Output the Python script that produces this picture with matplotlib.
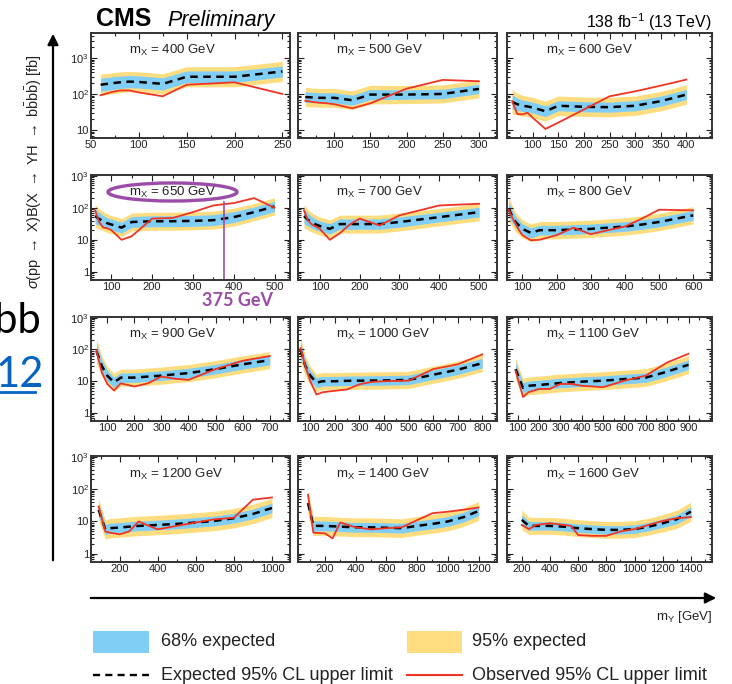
#!/usr/bin/python

"""
CMS X -> YH -> bbbb limits, 12 mass panels
"""
import numpy as np
import matplotlib
matplotlib.use('Agg')
import matplotlib.pyplot as plt
from matplotlib.patches import Ellipse, Rectangle
from matplotlib.lines import Line2D
from matplotlib.ticker import FixedLocator, AutoMinorLocator, LogLocator, NullFormatter, FuncFormatter

plt.rcParams['font.family'] = ['Liberation Sans', 'DejaVu Sans']
plt.rcParams['mathtext.fontset'] = 'custom'
plt.rcParams['mathtext.rm'] = 'Liberation Sans'
plt.rcParams['mathtext.it'] = 'Liberation Sans:italic'
plt.rcParams['mathtext.bf'] = 'Liberation Sans:bold'

MASS_X = [400, 500, 600, 650, 700, 800, 900, 1000, 1100, 1200, 1400, 1600]

MASS_Y = [
    [60, 70, 80, 90, 100, 125, 150, 200, 250],
    [60, 70, 80, 90, 100, 125, 150, 200, 250, 300],
    [60, 70, 80, 90, 100, 125, 150, 200, 250, 300, 350, 400],
    [60, 70, 80, 90, 100, 125, 150, 200, 250, 300, 350, 400, 450, 500],
    [60, 70, 80, 90, 100, 125, 150, 175, 200, 250, 300, 400, 500],
    [60, 70, 80, 90, 100, 125, 150, 200, 250, 300, 350, 400, 450, 500, 600],
    [60, 80, 100, 125, 150, 200, 250, 300, 350, 400, 500, 600, 700],
    [60, 80, 100, 125, 150, 200, 250, 300, 350, 400, 500, 600, 700, 800],
    [90, 125, 150, 200, 250, 300, 350, 400, 500, 600, 700, 800, 900],
    [90, 125, 150, 200, 250, 300, 350, 400, 500, 600, 700, 800, 900, 1000],
    [90, 125, 200, 250, 300, 400, 500, 600, 700, 800, 900, 1000, 1100, 1200],
    [200, 250, 300, 400, 500, 550, 600, 700, 800, 900, 1000, 1100, 1200, 1300, 1400],
]

EXPECTED = [
    [180, 195, 210, 220, 215, 190, 300, 300, 420],
    [82, 80, 78, 78, 78, 67, 96, 96, 100, 138],
    [60, 52, 47, 45, 42, 33, 47, 44, 43, 47, 63, 96],
    [55, 45, 38, 33, 30, 24, 36, 38, 38, 39, 41, 51, 73, 110],
    [55, 42, 35, 30, 27, 22, 31, 31, 31, 31, 36, 51, 73],
    [93, 55, 36, 28, 22, 16.4, 20, 20, 21, 22, 24, 26, 30, 36, 58],
    [89, 30, 15, 9.2, 13, 13, 14, 15, 16.5, 18, 24, 34, 46],
    [100, 30, 15, 9, 10, 10, 10.3, 10.4, 10.5, 10.6, 11, 16, 23, 37],
    [24, 6.2, 7.2, 7.6, 8.2, 8.8, 9.2, 9.7, 10.4, 11.7, 13, 20, 33],
    [23, 5.7, 6.2, 6.5, 6.9, 7.3, 7.5, 7.8, 8.4, 9.3, 10.4, 12.6, 17, 26],
    [37, 7.3, 7.3, 7.1, 6.9, 6.6, 6.6, 6.4, 6.2, 7.3, 8.4, 10, 13.5, 21],
    [11.2, 7.3, 7.3, 7.3, 6.9, 6.5, 6.2, 5.8, 5.5, 5.5, 5.8, 6.9, 8.8, 11.7, 20],
]

OBSERVED = [
    [92, 110, 125, 125, 110, 86, 180, 210, 100],
    [65, 60, 57, 55, 52, 40, 55, 140, 245, 225],
    [63, 28, 27, 30, 22, 10.7, 16, 37, 86, 118, 170, 250],
    [83, 36, 24, 23, 20, 10, 13, 46, 48, 73, 118, 140, 200, 100],
    [83, 40, 30, 26, 22, 10, 16, 30, 46, 28, 58, 118, 133],
    [87, 50, 32, 20, 14, 9.7, 10, 14, 24, 15, 20, 26, 46, 87, 83],
    [93, 19, 8.2, 5.1, 8.6, 6.8, 8.6, 14, 12, 11, 24, 44, 62],
    [110, 30, 10, 3.8, 4.5, 5, 5.5, 8, 9.5, 10, 10.4, 24, 34, 70],
    [21, 3.2, 4.5, 5.7, 5.7, 8.2, 8.2, 7.2, 6.5, 10.4, 15, 39, 73],
    [29, 4.9, 4.5, 4.0, 4.9, 10, 7.5, 5.7, 7.3, 9.3, 11.7, 13, 47, 55],
    [67, 4.5, 4.3, 3.0, 9.3, 6.6, 5.7, 6.2, 6.6, 11, 18, 20, 23, 27],
    [7.8, 5.8, 7.8, 8.8, 7.8, 7.3, 3.8, 3.6, 3.6, 4.9, 5.8, 7.8, 10.4, 12.6, 13.6],
]

# half widths of the bands, in decades
BAND68 = [
    [0.18, 0.18, 0.17, 0.17, 0.17, 0.17, 0.16, 0.16, 0.15],
    [0.15, 0.14, 0.14, 0.14, 0.14, 0.14, 0.14, 0.13, 0.13, 0.13],
    [0.20, 0.17, 0.16, 0.15, 0.15, 0.15, 0.14, 0.14, 0.14, 0.14, 0.14, 0.14],
    [0.24, 0.20, 0.18, 0.17, 0.17, 0.17, 0.17, 0.17, 0.17, 0.17, 0.17, 0.17, 0.16, 0.16],
    [0.24, 0.20, 0.18, 0.17, 0.16, 0.16, 0.16, 0.16, 0.16, 0.16, 0.16, 0.15, 0.15],
    [0.24, 0.20, 0.18, 0.17, 0.16, 0.16, 0.15, 0.15, 0.15, 0.15, 0.15, 0.15, 0.15, 0.15, 0.15],
    [0.24, 0.19, 0.17, 0.16, 0.15, 0.15, 0.15, 0.15, 0.15, 0.15, 0.15, 0.15, 0.15],
    [0.24, 0.19, 0.17, 0.16, 0.15, 0.15, 0.15, 0.15, 0.15, 0.15, 0.15, 0.15, 0.15, 0.15],
    [0.20, 0.16, 0.15, 0.15, 0.15, 0.15, 0.15, 0.15, 0.15, 0.15, 0.15, 0.15, 0.15],
    [0.20, 0.16, 0.15, 0.15, 0.15, 0.15, 0.15, 0.15, 0.15, 0.15, 0.15, 0.15, 0.15, 0.15],
    [0.22, 0.16, 0.15, 0.15, 0.15, 0.15, 0.15, 0.15, 0.15, 0.15, 0.15, 0.15, 0.15, 0.15],
    [0.16, 0.14, 0.13, 0.13, 0.13, 0.13, 0.13, 0.13, 0.13, 0.13, 0.13, 0.13, 0.13, 0.14, 0.15],
]
BAND95 = [
    [0.30, 0.29, 0.29, 0.28, 0.28, 0.28, 0.28, 0.28, 0.28],
    [0.27, 0.26, 0.26, 0.26, 0.26, 0.26, 0.26, 0.25, 0.25, 0.25],
    [0.34, 0.30, 0.29, 0.28, 0.28, 0.28, 0.27, 0.27, 0.27, 0.27, 0.27, 0.27],
    [0.36, 0.32, 0.30, 0.29, 0.28, 0.28, 0.28, 0.28, 0.28, 0.28, 0.28, 0.28, 0.27, 0.27],
    [0.36, 0.32, 0.30, 0.29, 0.28, 0.28, 0.28, 0.28, 0.28, 0.28, 0.28, 0.27, 0.27],
    [0.38, 0.33, 0.30, 0.29, 0.28, 0.28, 0.27, 0.27, 0.27, 0.27, 0.27, 0.27, 0.27, 0.27, 0.27],
    [0.38, 0.32, 0.29, 0.28, 0.27, 0.27, 0.27, 0.27, 0.27, 0.27, 0.27, 0.27, 0.27],
    [0.38, 0.32, 0.29, 0.28, 0.27, 0.27, 0.27, 0.27, 0.27, 0.27, 0.27, 0.27, 0.27, 0.27],
    [0.34, 0.29, 0.28, 0.28, 0.28, 0.28, 0.28, 0.28, 0.28, 0.28, 0.28, 0.28, 0.28],
    [0.34, 0.30, 0.30, 0.30, 0.30, 0.30, 0.30, 0.30, 0.30, 0.30, 0.30, 0.30, 0.30, 0.30],
    [0.36, 0.30, 0.29, 0.29, 0.29, 0.29, 0.29, 0.29, 0.29, 0.29, 0.29, 0.29, 0.29, 0.29],
    [0.30, 0.27, 0.26, 0.26, 0.26, 0.26, 0.26, 0.26, 0.26, 0.26, 0.26, 0.26, 0.27, 0.28, 0.29],
]

X_TICKS = [
    [50, 100, 150, 200, 250],
    [100, 150, 200, 250, 300],
    [100, 150, 200, 250, 300, 350, 400],
    [100, 200, 300, 400, 500],
    [100, 200, 300, 400, 500],
    [100, 200, 300, 400, 500, 600],
    [100, 200, 300, 400, 500, 600, 700],
    [100, 200, 300, 400, 500, 600, 700, 800],
    [100, 200, 300, 400, 500, 600, 700, 800, 900],
    [200, 400, 600, 800, 1000],
    [200, 400, 600, 800, 1000, 1200],
    [200, 400, 600, 800, 1000, 1200, 1400],
]
X_RANGE = [(50, 258), (50, 325), (50, 450), (50, 538), (45, 545), (55, 655),
           (40, 775), (50, 860), (50, 1010), (50, 1095), (25, 1320), (95, 1550)]

MY_MARK = 375  # highlighted mY in the mX = 650 GeV panel

BLUE = '#80CDF5'
YELLOW = '#FEDD80'
RED = '#EE3524'
PURPLE = '#9B4BA8'

W, H = 732, 684
COLS = [(91, 199), (298, 199), (507, 205)]
ROWS = [(33, 105), (175, 105), (317, 104), (456, 106)]


def ylabel_fmt(v, pos):
    labels = {1: '1', 10: '10', 100: r'10$^{2}$', 1000: r'10$^{3}$'}
    return labels.get(int(round(v)), '')


def main():
    fig = plt.figure(figsize=(W / 100, H / 100), dpi=100)

    for i, mx in enumerate(MASS_X):
        r, c = divmod(i, 3)
        x0, w = COLS[c]
        y0, h = ROWS[r]
        ax = fig.add_axes([x0 / W, 1 - (y0 + h) / H, w / W, h / H])

        my = np.array(MASS_Y[i], dtype=float)
        exp = np.array(EXPECTED[i])
        obs = np.array(OBSERVED[i])
        w68 = np.array(BAND68[i])
        w95 = np.array(BAND95[i])

        ax.fill_between(my, exp * 10 ** -w95, exp * 10 ** w95, color=YELLOW, lw=0)
        ax.fill_between(my, exp * 10 ** -w68, exp * 10 ** w68, color=BLUE, lw=0)
        ax.plot(my, exp, color='black', lw=1.8, dashes=(3, 2.2))
        ax.plot(my, obs, color=RED, lw=1.3)

        ax.set_yscale('log')
        ax.set_xlim(*X_RANGE[i])
        if r == 0:
            ax.set_ylim(6.0, 4900)
            ax.yaxis.set_major_locator(FixedLocator([10, 100, 1000]))
        else:
            ax.set_ylim(0.56, 1050)
            ax.yaxis.set_major_locator(FixedLocator([1, 10, 100, 1000]))
        ax.yaxis.set_minor_locator(LogLocator(base=10, subs=np.arange(2, 10)))
        ax.yaxis.set_minor_formatter(NullFormatter())
        if c == 0:
            ax.yaxis.set_major_formatter(FuncFormatter(ylabel_fmt))
        else:
            ax.yaxis.set_major_formatter(NullFormatter())

        ax.xaxis.set_major_locator(FixedLocator(X_TICKS[i]))
        ax.xaxis.set_minor_locator(AutoMinorLocator(2))

        ax.tick_params(which='both', direction='in', top=True, right=True,
                       labelsize=8, pad=1.5, colors='#222222', width=0.8)
        ax.tick_params(which='major', length=4)
        ax.tick_params(which='minor', length=2)
        for sp in ax.spines.values():
            sp.set_linewidth(1.4)
            sp.set_color('#333333')

        ax.text(0.19, 0.83, r'm$_{\mathrm{X}}$ = %d GeV' % mx, transform=ax.transAxes,
                fontsize=9.5, ha='left', va='center', color='#222222')

        if mx == 650:
            ax.axvline(MY_MARK, ymin=0, ymax=0.74, color=PURPLE, lw=1.2)

    # overlay in pixel coordinates for the slide annotations
    ov = fig.add_axes([0, 0, 1, 1])
    ov.set_xlim(0, W)
    ov.set_ylim(H, 0)
    ov.axis('off')
    ov.set_zorder(10)

    ov.text(96, 26, 'CMS', fontsize=18, fontweight='bold', ha='left', va='baseline')
    ov.text(167, 26, 'Preliminary', fontsize=15.5, style='italic', ha='left', va='baseline')
    ov.text(712, 28, r'138 fb$^{-1}$ (13 TeV)', fontsize=11.5, ha='right', va='baseline')

    ov.annotate('', xy=(53, 31), xytext=(53, 563),
                arrowprops=dict(arrowstyle='-|>', lw=1.6, color='black', mutation_scale=16))
    ov.annotate('', xy=(719, 598), xytext=(88, 598),
                arrowprops=dict(arrowstyle='-|>', lw=1.6, color='black', mutation_scale=16))

    ov.text(34, 172,
            r'$\sigma$(pp $\rightarrow$ X)B(X $\rightarrow$ YH $\rightarrow$ b$\bar{\mathrm{b}}$b$\bar{\mathrm{b}}$) [fb]',
            rotation=90, fontsize=10.5, ha='center', va='center', color='#222222')
    ov.text(712, 617, r'm$_{\mathrm{Y}}$ [GeV]', fontsize=9.5, ha='right', va='center', color='#222222')

    # legend
    ov.add_patch(Rectangle((93, 631), 56, 22, color=BLUE, lw=0))
    ov.add_patch(Rectangle((407, 631), 55, 22, color=YELLOW, lw=0))
    ov.add_line(Line2D([93, 149], [675, 675], color='black', lw=1.7, dashes=(3, 2.2)))
    ov.add_line(Line2D([407, 462], [675, 675], color=RED, lw=1.5))
    ov.text(161, 642, '68% expected', fontsize=13, ha='left', va='center', color='#222222')
    ov.text(472, 642, '95% expected', fontsize=13, ha='left', va='center', color='#222222')
    ov.text(161, 675, 'Expected 95% CL upper limit', fontsize=13, ha='left', va='center', color='#222222')
    ov.text(472, 675, 'Observed 95% CL upper limit', fontsize=13, ha='left', va='center', color='#222222')

    # slide annotations
    ov.add_patch(Ellipse((172.5, 192), 129, 18, fill=False, edgecolor=PURPLE, lw=2.4))
    ov.text(237, 301, '375 GeV', fontsize=13, fontweight='bold', color=PURPLE,
            ha='center', va='center', family=['Lato', 'DejaVu Sans'])
    ov.text(41, 333, 'bbb', fontsize=30, ha='right', va='baseline', color='black',
            family=['Lato', 'DejaVu Sans'])
    ov.text(-4, 387, '12', fontsize=30, ha='left', va='baseline', color='#0563C1',
            family=['Lato', 'DejaVu Sans'])
    ov.add_line(Line2D([0, 35], [392, 392], color='#0563C1', lw=2))

    fig.savefig('out.png', dpi=100)


if __name__ == '__main__':
    main()
